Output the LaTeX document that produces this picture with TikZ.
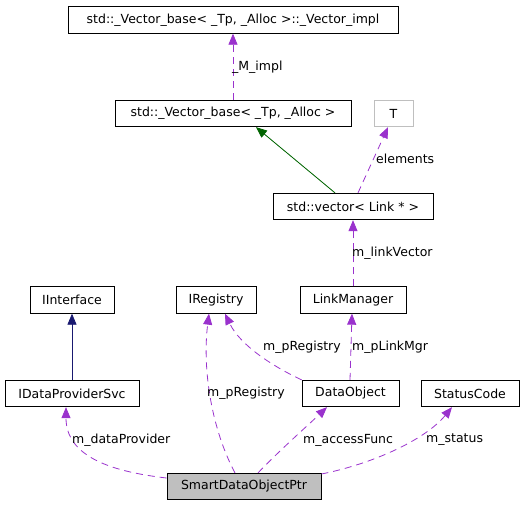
\documentclass[tikz,border=0pt]{standalone}
\usepackage{fontspec}
\setmainfont{DejaVu Sans}
\usetikzlibrary{arrows.meta}
\definecolor{edgepurple}{HTML}{9A32CD}
\definecolor{edgegreen}{HTML}{006400}
\definecolor{edgenavy}{HTML}{191970}
\definecolor{boxgray}{HTML}{BFBFBF}
\tikzset{
  cls/.style={draw=black, line width=0.8pt, rectangle, inner sep=0pt, minimum height=26.5pt, font=\fontsize{12.5}{14}\selectfont},
  member/.style={draw=edgepurple, line width=0.8pt, dash pattern=on 7pt off 5pt, -{Triangle[length=11pt,width=9pt]}},
  inherit/.style={line width=0.8pt, -{Triangle[length=11pt,width=9pt]}},
  lbl/.style={anchor=west, inner sep=0pt, font=\fontsize{12.5}{14}\selectfont}
}
\begin{document}
\begin{tikzpicture}[x=1pt,y=-1pt]
\useasboundingbox (0,0) rectangle (524,507);
\node[cls, minimum width=330pt] (impl) at (233,20) {std::\_Vector\_base< \_Tp, \_Alloc >::\_Vector\_impl};
\node[cls, minimum width=236pt] (base) at (233,113.5) {std::\_Vector\_base< \_Tp, \_Alloc >};
\node[cls, draw=boxgray, minimum width=39pt] (T) at (393.5,113.5) {T};
\node[cls, minimum width=160pt] (vec) at (353,206.5) {std::vector< Link * >};
\node[cls, minimum width=84pt] (iif) at (72,300) {IInterface};
\node[cls, minimum width=80pt] (ireg) at (216,300) {IRegistry};
\node[cls, minimum width=106pt] (lm) at (353,300) {LinkManager};
\node[cls, minimum width=134pt] (idp) at (72,393.5) {IDataProviderSvc};
\node[cls, minimum width=97pt] (dobj) at (350.5,393.5) {DataObject};
\node[cls, minimum width=98pt] (sc) at (470,393.5) {StatusCode};
\node[cls, fill=boxgray, minimum width=154pt] (smart) at (244,486.5) {SmartDataObjectPtr};

\draw[member] (base.north) -- (impl.south);
\node[lbl] (lMimpl) at (232,67) {\_M\_impl};

\draw[inherit, draw=edgegreen, fill=edgegreen] (vec.north -| 335,0) -- (base.south -| 256,0);
\draw[member] (vec.north -| 358,0) -- (T.south -| 388,0);
\node[lbl] (lelem) at (376,159) {elements};

\draw[member] (lm.north) -- (vec.south);
\node[lbl] (llv) at (352,253) {m\_linkVector};

\draw[inherit, draw=edgenavy, fill=edgenavy] (idp.north) -- (iif.south);

\draw[member] (dobj.north west) .. controls (272,366) and (240,345) .. (ireg.south -| 225,0);
\node[lbl] (lpreg1) at (263,347) {m\_pRegistry};
\draw[member] (dobj.north -| 350,0) -- (lm.south -| 352,0);
\node[lbl] (lplm) at (352,347) {m\_pLinkMgr};

\draw[member] (smart.north -| 235,0) .. controls (212,430) and (202,370) .. (ireg.south -| 209,0);
\node[lbl] (lpreg2) at (207,393) {m\_pRegistry};

\draw[member] (smart.west |- 0,478) .. controls (115,472) and (66,458) .. (idp.south -| 66,0);
\node[lbl] (ldp) at (72,440) {m\_dataProvider};

\draw[member] (smart.north -| 258,0) .. controls (280,450) and (305,428) .. (dobj.south -| 327,0);
\node[lbl] (laf) at (303,440) {m\_accessFunc};

\draw[member] (smart.east |- 0,474) .. controls (372,464) and (425,440) .. (sc.south -| 452,0);
\node[lbl] (lst) at (426,440) {m\_status};
\end{tikzpicture}
\end{document}
